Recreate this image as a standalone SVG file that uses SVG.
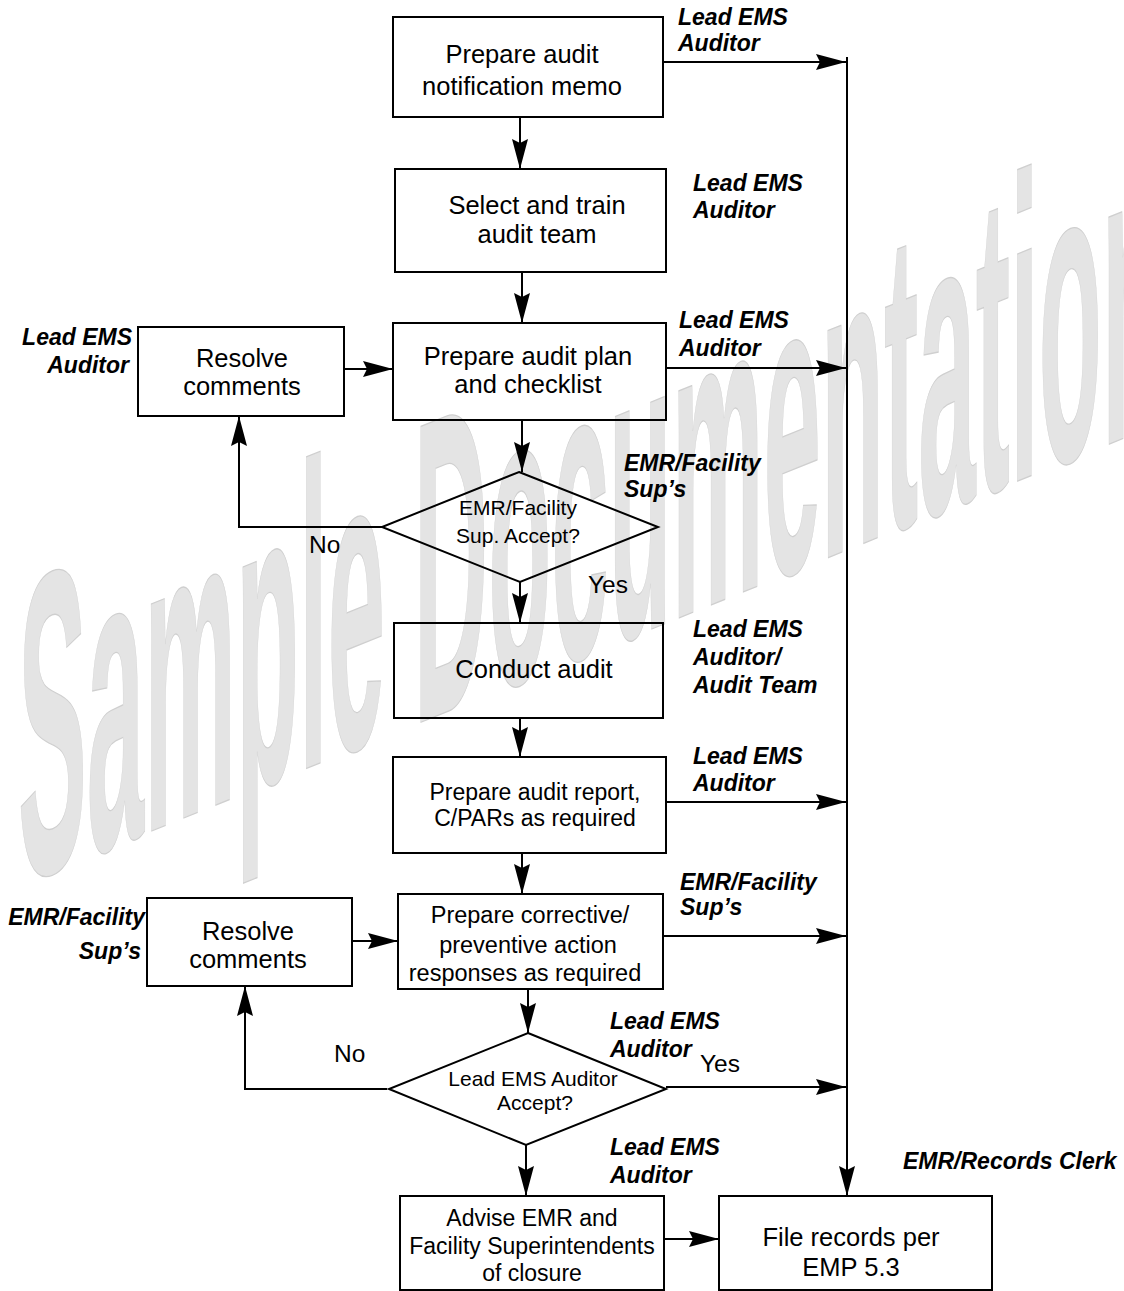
<svg xmlns="http://www.w3.org/2000/svg" width="1124" height="1291" viewBox="0 0 1124 1291">
<style>
.box{fill:none;stroke:#000;stroke-width:2}
.t{font-family:"Liberation Sans",Arial,sans-serif;font-size:25.5px;fill:#000;text-anchor:middle}
.s23{font-size:23px}
.s24{font-size:23.5px}
.d{font-family:"Liberation Sans",Arial,sans-serif;font-size:21px;fill:#000;text-anchor:middle}
.lb{font-family:"Liberation Sans",Arial,sans-serif;font-size:23px;font-weight:bold;font-style:italic;fill:#000}
.yn{font-family:"Liberation Sans",Arial,sans-serif;font-size:24.5px;fill:#000}
.c{fill:none;stroke:#000;stroke-width:2}
.wm{font-family:"Liberation Sans",Arial,sans-serif;font-size:430px;font-weight:bold;fill:#e4e4e4;stroke:#cfcfcf;stroke-width:1}
</style>
<defs>
<marker id="ah" viewBox="0 0 30 16" refX="30" refY="8" markerWidth="30" markerHeight="16" orient="auto" markerUnits="userSpaceOnUse">
<path d="M0,0 L30,8 L0,16 L4,8 Z" fill="#000"/>
</marker>
</defs>
<rect width="1124" height="1291" fill="#fff"/>
<g id="watermark">
<text class="wm" vector-effect="non-scaling-stroke" transform="translate(18,885) skewY(-22) scale(0.24,1)">Sample Documentation</text>
</g>
<g id="connectors">
<path class="c" marker-end="url(#ah)" d="M520,117 V169"/>
<path class="c" marker-end="url(#ah)" d="M522,272 V323"/>
<path class="c" marker-end="url(#ah)" d="M522,420 V472"/>
<path class="c" marker-end="url(#ah)" d="M520,582 V623"/>
<path class="c" marker-end="url(#ah)" d="M520,718 V757"/>
<path class="c" marker-end="url(#ah)" d="M522,853 V894"/>
<path class="c" marker-end="url(#ah)" d="M528,989 V1033"/>
<path class="c" marker-end="url(#ah)" d="M526,1145 V1196"/>
<path class="c" marker-end="url(#ah)" d="M664,1239 H719"/>
<path class="c" marker-end="url(#ah)" d="M382,527 H239 V416"/>
<path class="c" marker-end="url(#ah)" d="M344,369 H393"/>
<path class="c" marker-end="url(#ah)" d="M387,1089 H245 V986"/>
<path class="c" marker-end="url(#ah)" d="M352,941 H398"/>
<path class="c" marker-end="url(#ah)" d="M663,62 H846"/>
<path class="c" marker-end="url(#ah)" d="M666,368 H846"/>
<path class="c" marker-end="url(#ah)" d="M666,802 H846"/>
<path class="c" marker-end="url(#ah)" d="M663,936 H846"/>
<path class="c" marker-end="url(#ah)" d="M666,1087 H846"/>
<path class="c" marker-end="url(#ah)" d="M847,57 V1196"/>
</g>
<g id="n1">
<rect class="box" x="393" y="17" width="270" height="100"/>
<text class="t" x="522" y="63">Prepare audit</text>
<text class="t" x="522" y="95">notification memo</text>
<text class="lb" x="678" y="25">Lead EMS</text>
<text class="lb" x="678" y="51">Auditor</text>
</g>
<g id="n2">
<rect class="box" x="395" y="169" width="271" height="103"/>
<text class="t" x="537" y="214">Select and train</text>
<text class="t" x="537" y="243">audit team</text>
<text class="lb" x="693" y="191">Lead EMS</text>
<text class="lb" x="693" y="218">Auditor</text>
</g>
<g id="n3">
<rect class="box" x="393" y="323" width="273" height="97"/>
<text class="t" x="528" y="365">Prepare audit plan</text>
<text class="t" x="528" y="393">and checklist</text>
<text class="lb" x="679" y="328">Lead EMS</text>
<text class="lb" x="679" y="356">Auditor</text>
</g>
<g id="r1">
<rect class="box" x="138" y="327" width="206" height="89"/>
<text class="t" x="242" y="367">Resolve</text>
<text class="t" x="242" y="395">comments</text>
<text class="lb" x="132" y="345" text-anchor="end">Lead EMS</text>
<text class="lb" x="129" y="373" text-anchor="end">Auditor</text>
</g>
<g id="d1">
<polygon class="box" points="519,472 658,527 520,582 382,527"/>
<text class="d" x="518" y="515">EMR/Facility</text>
<text class="d" x="518" y="543">Sup. Accept?</text>
<text class="lb" x="624" y="471">EMR/Facility</text>
<text class="lb" x="624" y="497">Sup’s</text>
<text class="yn" x="309" y="553">No</text>
<text class="yn" x="588" y="593">Yes</text>
</g>
<g id="n4">
<rect class="box" x="394" y="623" width="269" height="95"/>
<text class="t" x="534" y="678">Conduct audit</text>
<text class="lb" x="693" y="637">Lead EMS</text>
<text class="lb" x="693" y="665">Auditor/</text>
<text class="lb" x="693" y="693">Audit Team</text>
</g>
<g id="n5">
<rect class="box" x="393" y="757" width="273" height="96"/>
<text class="t s23" x="535" y="800">Prepare audit report,</text>
<text class="t s23" x="535" y="826">C/PARs as required</text>
<text class="lb" x="693" y="764">Lead EMS</text>
<text class="lb" x="693" y="791">Auditor</text>
</g>
<g id="n6">
<rect class="box" x="398" y="894" width="265" height="95"/>
<text class="t s24" x="530" y="923">Prepare corrective/</text>
<text class="t s24" x="528" y="953">preventive action</text>
<text class="t s24" x="525" y="981">responses as required</text>
<text class="lb" x="680" y="890">EMR/Facility</text>
<text class="lb" x="680" y="915">Sup’s</text>
</g>
<g id="r2">
<rect class="box" x="147" y="898" width="205" height="88"/>
<text class="t" x="248" y="940">Resolve</text>
<text class="t" x="248" y="968">comments</text>
<text class="lb" x="145" y="925" text-anchor="end">EMR/Facility</text>
<text class="lb" x="141" y="959" text-anchor="end">Sup’s</text>
</g>
<g id="d2">
<polygon class="box" points="528,1033 666,1089 526,1145 389,1089"/>
<text class="d" x="533" y="1086">Lead EMS Auditor</text>
<text class="d" x="535" y="1110">Accept?</text>
<text class="lb" x="610" y="1029">Lead EMS</text>
<text class="lb" x="610" y="1057">Auditor</text>
<text class="yn" x="334" y="1062">No</text>
<text class="yn" x="700" y="1072">Yes</text>
</g>
<g id="n7">
<rect class="box" x="400" y="1196" width="264" height="94"/>
<text class="t s23" x="532" y="1226">Advise EMR and</text>
<text class="t s23" x="532" y="1254">Facility Superintendents</text>
<text class="t s23" x="532" y="1281">of closure</text>
<text class="lb" x="610" y="1155">Lead EMS</text>
<text class="lb" x="610" y="1183">Auditor</text>
</g>
<g id="n8">
<rect class="box" x="719" y="1196" width="273" height="94"/>
<text class="t" x="851" y="1246">File records per</text>
<text class="t" x="851" y="1276">EMP 5.3</text>
<text class="lb" x="903" y="1169">EMR/Records Clerk</text>
</g>
</svg>
